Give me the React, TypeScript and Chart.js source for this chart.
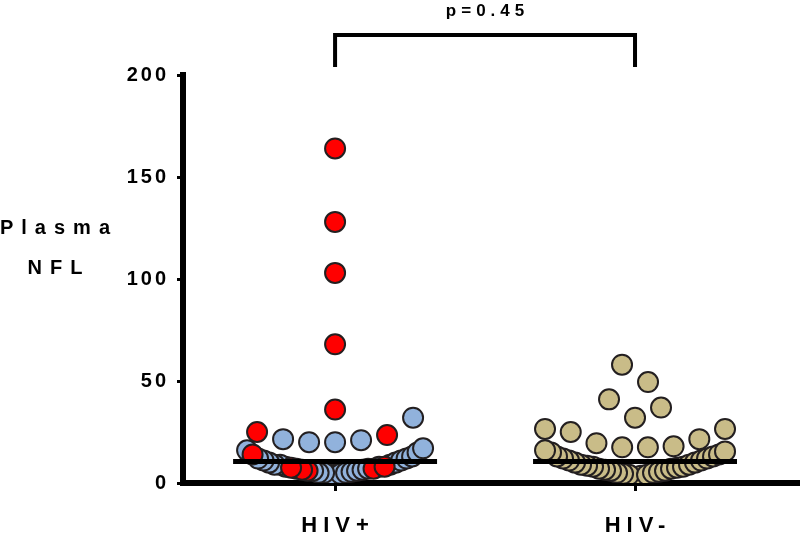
import React, { useEffect, useRef } from "react";
import { Chart, registerables } from "chart.js";

Chart.register(...registerables);

// ---- data ----
const categories = ["HIV+", "HIV-"];
const hivPosRed = [164, 128, 103, 68, 36, 25, 23.5, 14, 6, 6.5, 7, 7.5, 8];
const hivPosBlue = [
  32, 21.5, 21, 20, 20, 17, 16, 15, 13, 12, 12, 11, 11, 10, 10, 9, 9, 9, 8, 8,
  7, 7, 6.5, 6, 6, 5.5, 5, 5, 5, 4.5, 4, 4,
];
const hivNeg = [
  58, 49.5, 41, 37, 32, 26.5, 26.5, 25, 21.5, 19.5, 18, 17.5, 17.5, 16, 15.5,
  15, 14, 13, 13, 12, 12, 11, 11, 10, 10, 9, 9, 8.5, 8, 8, 7.5, 7, 7, 6.5, 6,
  6, 5.5, 5, 5, 4.5, 4, 4, 3.5, 3,
];
const medians = [10.5, 10.5];
const yTickValues = [0, 50, 100, 150, 200];
const pValueText = "p=0.45";
const yTitleLines = ["Plasma", "NFL"];

const FONT = "'Liberation Sans', Arial, sans-serif";
const BLUE = "#91B2DC";
const RED = "#FF0000";
const TAN = "#C9BC88";
const EDGE = "#231F20";

type Item = { v: number; tag: number };

function buildSwarm(
  items: Item[],
  pxPerY: number,
  halfWidthPx: number,
  maxStepPx: number,
  spanPx: number,
  gapPx: number,
  leftFirst: boolean
) {
  const sorted = [...items].sort((a, b) => a.v - b.v);
  const groups: Item[][] = [];
  let cur: Item[] = [];
  for (const it of sorted) {
    if (
      cur.length &&
      ((it.v - cur[0].v) * pxPerY > spanPx ||
        (it.v - cur[cur.length - 1].v) * pxPerY > gapPx)
    ) {
      groups.push(cur);
      cur = [];
    }
    cur.push(it);
  }
  if (cur.length) groups.push(cur);
  const out: { v: number; tag: number; dx: number }[] = [];
  const dir = leftFirst ? 1 : -1;
  for (const g of groups) {
    const n = g.length;
    const step = n > 1 ? Math.min(maxStepPx, (2 * halfWidthPx) / (n - 1)) : 0;
    const slots: number[] = [];
    for (let i = 0; i < n; i++) slots.push((i - (n - 1) / 2) * step);
    slots.sort((a, b) => Math.abs(a) - Math.abs(b) || dir * (a - b));
    g.forEach((it, k) => out.push({ v: it.v, tag: it.tag, dx: slots[k] }));
  }
  return out;
}

function drawSpaced(
  ctx: CanvasRenderingContext2D,
  text: string,
  x: number,
  y: number,
  size: number,
  spacing: number
) {
  ctx.save();
  ctx.font = `bold ${size}px ${FONT}`;
  (ctx as any).letterSpacing = `${spacing}px`;
  ctx.fillStyle = "#000";
  ctx.textAlign = "center";
  ctx.textBaseline = "middle";
  ctx.fillText(text, x + spacing / 2, y);
  ctx.restore();
}

const annotationPlugin = {
  id: "annot",
  beforeDraw(chart: any) {
    chart.ctx.letterSpacing = "3px";
  },
  afterDraw(chart: any) {
    const ctx = chart.ctx as CanvasRenderingContext2D;
    const xs = chart.scales.x;
    const area = chart.chartArea;
    // y title
    drawSpaced(ctx, yTitleLines[0], 55, 228, 20, 8);
    drawSpaced(ctx, yTitleLines[1], 55, 268, 20, 8);
    // x category labels
    categories.forEach((c, i) => {
      drawSpaced(ctx, c, xs.getPixelForValue(i), area.bottom + 43, 22, 6);
    });
    // bracket
    const x0 = xs.getPixelForValue(0);
    const x1 = xs.getPixelForValue(1);
    const top = area.top - 40;
    const bot = area.top - 8;
    ctx.save();
    ctx.strokeStyle = "#000";
    ctx.lineWidth = 4;
    ctx.lineCap = "butt";
    ctx.lineJoin = "miter";
    ctx.beginPath();
    ctx.moveTo(x0, bot);
    ctx.lineTo(x0, top);
    ctx.lineTo(x1, top);
    ctx.lineTo(x1, bot);
    ctx.stroke();
    ctx.restore();
    drawSpaced(ctx, pValueText, (x0 + x1) / 2, 11, 17, 5);
  },
};

export default function App() {
  const canvasRef = useRef<HTMLCanvasElement | null>(null);

  useEffect(() => {
    document.body.style.margin = "0";
    const canvas = canvasRef.current;
    if (!canvas) return;

    const pointStyle = {
      pointRadius: 10,
      pointHoverRadius: 10,
      borderColor: EDGE,
      borderWidth: 2,
      showLine: false,
    };

    const chart = new Chart(canvas, {
      type: "scatter",
      data: {
        datasets: [
          ...medians.map((m, i) => ({
            type: "line" as const,
            data: [
              { x: i - 0.34, y: m },
              { x: i + 0.34, y: m },
            ],
            borderColor: "#000",
            borderWidth: 5,
            pointRadius: 0,
            showLine: true,
            order: 0,
          })),
          { ...pointStyle, data: [], backgroundColor: RED, order: 1 },
          { ...pointStyle, data: [], backgroundColor: BLUE, order: 2 },
          { ...pointStyle, data: [], backgroundColor: TAN, order: 2 },
        ] as any,
      },
      options: {
        animation: false,
        responsive: false,
        events: [],
        layout: {
          autoPadding: false,
          padding: { top: 75, right: 0, bottom: 0, left: 0 },
        },
        plugins: { legend: { display: false }, tooltip: { enabled: false } },
        scales: {
          x: {
            type: "linear",
            min: -0.507,
            max: 1.55,
            afterBuildTicks: (axis: any) => {
              axis.ticks = categories.map((_, i) => ({ value: i }));
            },
            afterFit: (axis: any) => {
              axis.height = 54;
            },
            ticks: { display: false },
            grid: {
              drawOnChartArea: false,
              drawTicks: true,
              tickLength: 8,
              tickWidth: 3,
              color: "#000",
            },
            border: { display: true, width: 6, color: "#000" },
          },
          y: {
            type: "linear",
            min: 0,
            max: 200,
            afterBuildTicks: (axis: any) => {
              axis.ticks = yTickValues.map((v) => ({ value: v }));
            },
            afterFit: (axis: any) => {
              axis.width = 183;
            },
            ticks: {
              color: "#000",
              padding: 8,
              font: { family: FONT, size: 20, weight: "bold" },
            },
            grid: {
              drawOnChartArea: false,
              drawTicks: true,
              tickLength: 6,
              tickWidth: 3,
              color: "#000",
            },
            border: { display: true, width: 6, color: "#000" },
          },
        },
      } as any,
      plugins: [annotationPlugin],
    });

    const xs: any = chart.scales.x;
    const ys: any = chart.scales.y;
    const pxPerX = xs.getPixelForValue(1) - xs.getPixelForValue(0);
    const pxPerY = ys.getPixelForValue(0) - ys.getPixelForValue(1);

    const posItems: Item[] = [
      ...hivPosBlue.map((v) => ({ v, tag: 0 })),
      ...hivPosRed.map((v) => ({ v, tag: 1 })),
    ];
    const posSwarm = buildSwarm(posItems, pxPerY, 88, 26, 28, 20, true);
    const negSwarm = buildSwarm(
      hivNeg.map((v) => ({ v, tag: 2 })),
      pxPerY,
      90,
      26,
      28,
      20,
      false
    );

    const toPt = (cat: number) => (p: { v: number; dx: number }) => ({
      x: cat + p.dx / pxPerX,
      y: p.v,
    });
    const ds = chart.data.datasets as any[];
    ds[2].data = posSwarm.filter((p) => p.tag === 1).map(toPt(0));
    ds[3].data = posSwarm.filter((p) => p.tag === 0).map(toPt(0));
    ds[4].data = negSwarm.map(toPt(1));
    chart.update();

    return () => chart.destroy();
  }, []);

  return (
    <div style={{ width: 800, height: 537 }}>
      <canvas
        ref={canvasRef}
        width={800}
        height={537}
        style={{ display: "block" }}
      />
    </div>
  );
}
